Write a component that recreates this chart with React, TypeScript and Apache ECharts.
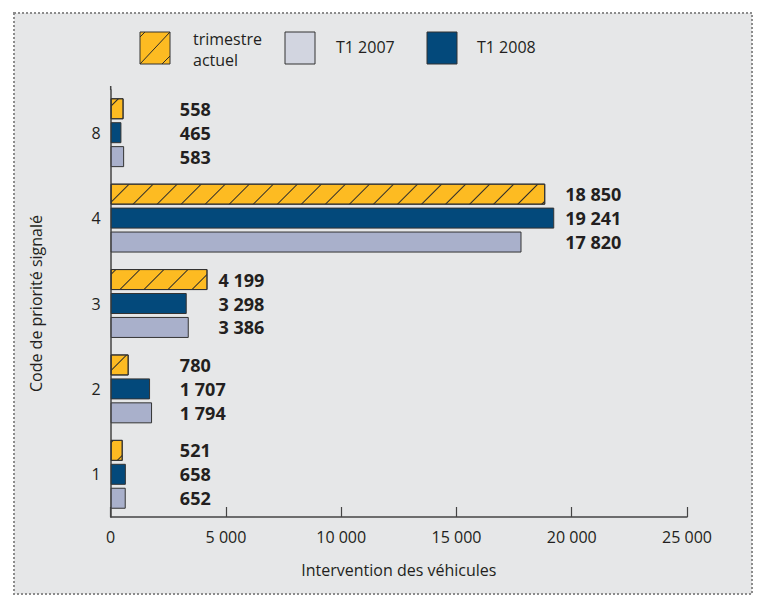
import React, { useEffect, useRef } from 'react';
import * as echarts from 'echarts';

const categories = ['1', '2', '3', '4', '8'];
const seriesNames = ['trimestre actuel', 'T1 2008', 'T1 2007'];
const legendNames = ['trimestre\nactuel', 'T1 2007', 'T1 2008'];
const actuel = [521, 780, 4199, 18850, 558];
const t2008 = [658, 1707, 3298, 19241, 465];
const t2007 = [652, 1794, 3386, 17820, 583];
const xMin = 0;
const xMax = 25000;
const xInterval = 5000;
const minLabelValue = 3000;
const axisTitleX = 'Intervention des véhicules';
const axisTitleY = 'Code de priorité signalé';

const YELLOW = '#FDBB22';
const BLUE = '#03497B';
const GREY = '#A9B0CB';
const GREY_LEGEND = '#D2D5E0';
const FONT = '"Open Sans", "Noto Sans", sans-serif';

const fmt = (n: number) => String(n).replace(/\B(?=(\d{3})+(?!\d))/g, ' ');

export default function App() {
  const ref = useRef<HTMLDivElement>(null);
  useEffect(() => {
    document.body.style.margin = '0';
    const chart = echarts.init(ref.current!, null, { renderer: 'svg' });
    const hatch = {
      symbol: 'rect',
      symbolSize: 1,
      color: '#2b2b2b',
      dashArrayX: [1, 0],
      dashArrayY: [1, 16],
      rotation: -Math.PI / 4,
    };
    const seriesData = [actuel, t2008, t2007];
    const colors = [YELLOW, BLUE, GREY];
    const buildSeries = (labelPos: number[] | null) =>
      seriesData.map((arr, si) => ({
        name: seriesNames[si],
        type: 'bar',
        barWidth: 21,
        barGap: '14%',
        itemStyle: {
          color: colors[si],
          borderColor: '#333',
          borderWidth: 1,
          ...(si === 0 ? { decal: hatch } : {}),
        },
        label: {
          show: labelPos !== null,
          fontFamily: FONT,
          fontWeight: 'bold',
          fontSize: 18,
          color: '#231F20',
          align: 'left',
          verticalAlign: 'middle',
          formatter: (p: any) => fmt(p.value),
        },
        data: arr.map((v, i) => ({
          value: v,
          label: labelPos ? { position: [labelPos[i], '50%'] } : undefined,
        })),
      }));

    const swX = [140, 285, 427];
    const txX = [193, 336, 477];
    const swColors = [YELLOW, GREY_LEGEND, BLUE];
    const legendGraphics: any[] = [];
    swX.forEach((x, i) => {
      legendGraphics.push({
        type: 'rect',
        shape: { x, y: 32, width: 30, height: 32 },
        style: { fill: swColors[i], stroke: '#333', lineWidth: 1 },
        z: 10,
      });
      legendGraphics.push({
        type: 'text',
        style: {
          x: txX[i],
          y: i === 0 ? 49 : 47,
          text: legendNames[i],
          font: `16px ${FONT}`,
          fill: '#231F20',
          verticalAlign: 'middle',
          lineHeight: 21,
        },
        z: 10,
      });
    });
    [[140, 64, 170, 32], [140, 37, 145, 32], [162, 64, 170, 56]].forEach((s) =>
      legendGraphics.push({
        type: 'line',
        shape: { x1: s[0], y1: s[1], x2: s[2], y2: s[3] },
        style: { stroke: '#2b2b2b', lineWidth: 1 },
        z: 11,
      })
    );

    const option: any = {
      animation: false,
      backgroundColor: '#ffffff',
      textStyle: { fontFamily: FONT },
      grid: { left: 110.7, right: 70, top: 90, bottom: 80 },
      graphic: [
        {
          type: 'rect',
          shape: { x: 14, y: 13, width: 738, height: 581 },
          style: { fill: '#E6E7E8', stroke: '#8c8c8c', lineWidth: 2, lineDash: [2, 2] },
          z: -10,
          silent: true,
        },
        {
          type: 'line',
          shape: { x1: 110.7, y1: 86, x2: 110.7, y2: 90 },
          style: { stroke: '#444', lineWidth: 1.5 },
          z: 5,
        },
        ...legendGraphics,
      ],
      xAxis: {
        type: 'value',
        min: xMin,
        max: xMax,
        interval: xInterval,
        name: axisTitleX,
        nameLocation: 'middle',
        nameGap: 45,
        nameTextStyle: { fontSize: 16, color: '#231F20', fontFamily: FONT },
        splitLine: { show: false },
        axisLine: { show: true, lineStyle: { color: '#444', width: 1.5 } },
        axisTick: { show: true, inside: true, length: 10, lineStyle: { color: '#444', width: 1.2 } },
        axisLabel: { fontSize: 16, color: '#231F20', margin: 12, fontFamily: FONT, formatter: (v: number) => fmt(v) },
      },
      yAxis: {
        type: 'category',
        data: categories,
        name: axisTitleY,
        nameLocation: 'middle',
        nameGap: 67,
        nameTextStyle: { fontSize: 16, color: '#231F20', fontFamily: FONT },
        axisLine: { show: true, lineStyle: { color: '#444', width: 1.5 } },
        axisTick: { show: false },
        axisLabel: { fontSize: 16, color: '#231F20', margin: 10, fontFamily: FONT },
      },
      series: buildSeries(null),
    };
    chart.setOption(option);
    const px = (v: number) => chart.convertToPixel({ xAxisIndex: 0 }, v) as number;
    const px0 = px(0);
    const labelPos = categories.map((_, i) => {
      const gmax = Math.max(actuel[i], t2008[i], t2007[i]);
      return Math.max(px(gmax) + 11, px(minLabelValue)) - px0;
    });
    chart.setOption({ series: buildSeries(labelPos) });
    return () => chart.dispose();
  }, []);
  return <div ref={ref} style={{ position: 'fixed', left: 0, top: 0, width: 757, height: 597 }} />;
}
